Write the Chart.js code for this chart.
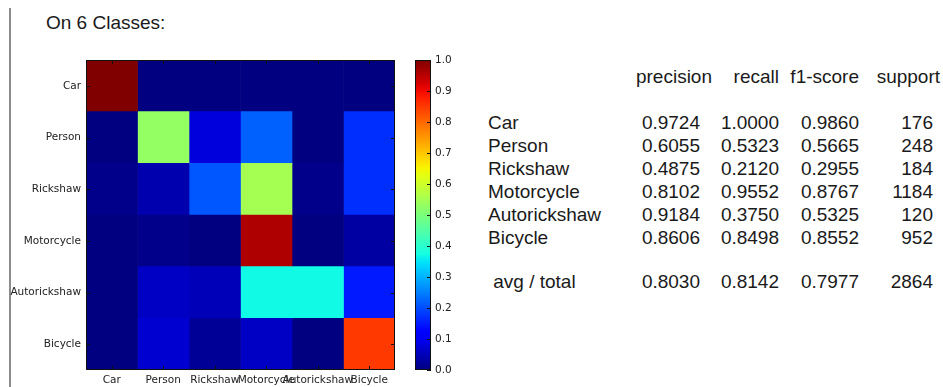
<!DOCTYPE html>
<html>
<head>
<meta charset="utf-8">
<script src="https://cdn.jsdelivr.net/npm/chart.js@4.4.1/dist/chart.umd.min.js"></script>
<style>
  body { margin: 0; background: #fff; }
  #page { position: relative; width: 943px; height: 387px; overflow: hidden; font-family: "Liberation Sans", Arial, sans-serif; color: #1a1a1a; }
  #rule { position: absolute; left: 9px; top: 8px; width: 2px; height: 379px; background: #8c8c8c; }
  #title { position: absolute; left: 46px; top: 12px; font-size: 19px; line-height: 22px; white-space: pre; }
  .cell { position: absolute; font-size: 19px; line-height: 22px; white-space: pre; }
  #heat { position: absolute; left: 0; top: 0; }
  #bar { position: absolute; left: 400px; top: 0; }
</style>
</head>
<body>
<div id="page">
  <div id="rule"></div>
  <div id="title">On 6 Classes:</div>
  <canvas id="heat" width="410" height="387"></canvas>
  <canvas id="bar" width="60" height="387"></canvas>
  <div id="report"></div>
</div>
<script>
// class names (rows = true, columns = predicted)
const classes = ["Car", "Person", "Rickshaw", "Motorcycle", "Autorickshaw", "Bicycle"];

// normalised confusion matrix, one row per true class
const rowCar          = [1.00, 0.00, 0.00, 0.00, 0.00, 0.00];
const rowPerson       = [0.00, 0.53, 0.08, 0.22, 0.00, 0.17];
const rowRickshaw     = [0.01, 0.04, 0.21, 0.55, 0.01, 0.17];
const rowMotorcycle   = [0.00, 0.01, 0.00, 0.96, 0.00, 0.03];
const rowAutorickshaw = [0.00, 0.06, 0.05, 0.37, 0.37, 0.15];
const rowBicycle      = [0.00, 0.07, 0.02, 0.06, 0.00, 0.85];
const confusion = [rowCar, rowPerson, rowRickshaw, rowMotorcycle, rowAutorickshaw, rowBicycle];

const colorbarTicks = [0.0, 0.1, 0.2, 0.3, 0.4, 0.5, 0.6, 0.7, 0.8, 0.9, 1.0];

// classification report
const reportHeader = ["precision", "recall", "f1-score", "support"];
const precision = [0.9724, 0.6055, 0.4875, 0.8102, 0.9184, 0.8606];
const recall    = [1.0000, 0.5323, 0.2120, 0.9552, 0.3750, 0.8498];
const f1score   = [0.9860, 0.5665, 0.2955, 0.8767, 0.5325, 0.8552];
const support   = [176, 248, 184, 1184, 120, 952];
const avgTotal  = [0.8030, 0.8142, 0.7977, 2864];

// matplotlib "jet"
const jetR = [[0, 0], [0.35, 0], [0.66, 1], [0.89, 1], [1, 0.5]];
const jetG = [[0, 0], [0.125, 0], [0.375, 1], [0.64, 1], [0.91, 0], [1, 0]];
const jetB = [[0, 0.5], [0.11, 1], [0.34, 1], [0.65, 0], [1, 0]];
function seg(pts, v) {
  for (let i = 1; i < pts.length; i++) {
    if (v <= pts[i][0]) {
      const [x0, y0] = pts[i - 1], [x1, y1] = pts[i];
      return y0 + (y1 - y0) * (v - x0) / (x1 - x0);
    }
  }
  return pts[pts.length - 1][1];
}
function jet(v) {
  v = Math.max(0, Math.min(1, v));
  const c = [jetR, jetG, jetB].map(p => Math.round(seg(p, v) * 255));
  return `rgb(${c[0]},${c[1]},${c[2]})`;
}

const tickFont = { family: "'DejaVu Sans', sans-serif", size: 10.5 };

// black frame plus small inward ticks, like matplotlib
const framePlugin = {
  id: "frame",
  afterDatasetsDraw(chart, args, opts) {
    const { ctx, chartArea: a } = chart;
    ctx.save();
    ctx.strokeStyle = "#111";
    ctx.lineWidth = 1;
    ctx.strokeRect(Math.round(a.left) + 0.5, Math.round(a.top) + 0.5,
                   Math.round(a.right - a.left) - 1, Math.round(a.bottom - a.top) - 1);
    ctx.beginPath();
    const len = 4;
    (opts.xTicks ? chart.scales.x.ticks : []).forEach(t => {
      const x = Math.round(chart.scales.x.getPixelForValue(t.value)) + 0.5;
      ctx.moveTo(x, a.bottom); ctx.lineTo(x, a.bottom - len);
      ctx.moveTo(x, a.top); ctx.lineTo(x, a.top + len);
    });
    (opts.yTicks ? chart.scales.y.ticks : []).forEach((t, i) => {
      const y = Math.round(chart.scales.y.getPixelForTick(i)) + 0.5;
      if (opts.left) { ctx.moveTo(a.left, y); ctx.lineTo(a.left + len, y); }
      ctx.moveTo(a.right, y); ctx.lineTo(a.right - len, y);
    });
    ctx.stroke();
    ctx.restore();
  }
};

// heatmap: one floating-bar dataset per predicted column
new Chart(document.getElementById("heat"), {
  type: "bar",
  data: {
    labels: classes,
    datasets: classes.map((name, j) => ({
      label: name,
      data: classes.map(() => [j, j + 1]),
      backgroundColor: confusion.map(row => jet(row[j])),
      borderWidth: 0,
      barPercentage: 1,
      categoryPercentage: 1,
      grouped: false
    }))
  },
  options: {
    indexAxis: "y",
    responsive: false,
    animation: false,
    layout: { padding: { top: 60, right: 15, left: 0, bottom: 0 } },
    plugins: {
      legend: { display: false },
      tooltip: { enabled: false },
      frame: { xTicks: true, yTicks: true, left: true }
    },
    scales: {
      x: {
        type: "linear",
        min: 0,
        max: classes.length,
        grid: { display: false, drawTicks: false },
        border: { display: false },
        afterBuildTicks: s => { s.ticks = classes.map((c, i) => ({ value: i + 0.5 })); },
        afterFit: s => { s.height = 17; },
        ticks: {
          autoSkip: false,
          maxRotation: 0,
          minRotation: 0,
          padding: 4,
          color: "#222",
          font: tickFont,
          callback: v => classes[Math.floor(v)]
        }
      },
      y: {
        grid: { display: false, drawTicks: false },
        border: { display: false },
        afterFit: s => { s.width = 86; },
        ticks: { padding: 5, color: "#222", font: tickFont }
      }
    }
  },
  plugins: [framePlugin]
});

// colorbar
new Chart(document.getElementById("bar"), {
  type: "bar",
  data: {
    labels: [""],
    datasets: [{
      data: [[0, 1]],
      borderWidth: 0,
      barPercentage: 1,
      categoryPercentage: 1,
      backgroundColor: ctx => {
        const a = ctx.chart.chartArea;
        if (!a) return "#000";
        const g = ctx.chart.ctx.createLinearGradient(0, a.bottom, 0, a.top);
        for (let i = 0; i <= 40; i++) g.addColorStop(i / 40, jet(i / 40));
        return g;
      }
    }]
  },
  options: {
    responsive: false,
    animation: false,
    layout: { padding: { top: 60, left: 15, right: 0, bottom: 17 } },
    plugins: {
      legend: { display: false },
      tooltip: { enabled: false },
      frame: { xTicks: false, yTicks: true, left: false }
    },
    scales: {
      x: { display: false },
      y: {
        position: "right",
        min: 0,
        max: 1,
        grid: { display: false, drawTicks: false },
        border: { display: false },
        afterBuildTicks: s => { s.ticks = colorbarTicks.map(v => ({ value: v })); },
        afterFit: s => { s.width = 29; },
        ticks: {
          padding: 4,
          color: "#222",
          font: tickFont,
          callback: v => Number(v).toFixed(1)
        }
      }
    }
  },
  plugins: [framePlugin]
});

// classification report as text
const report = document.getElementById("report");
function put(text, x, baseline, align) {
  const d = document.createElement("div");
  d.className = "cell";
  d.textContent = text;
  d.style.top = (baseline - 17.6) + "px";
  if (align === "right") d.style.right = (943 - x) + "px";
  else d.style.left = x + "px";
  report.appendChild(d);
}
const headerRight = [712, 779, 859, 940];
const colRight = [700, 779, 859, 933];
reportHeader.forEach((h, i) => put(h, headerRight[i], 84, "right"));
classes.forEach((name, i) => {
  const y = 130 + 23 * i;
  put(name, 488, y, "left");
  put(precision[i].toFixed(4), colRight[0], y, "right");
  put(recall[i].toFixed(4), colRight[1], y, "right");
  put(f1score[i].toFixed(4), colRight[2], y, "right");
  put(String(support[i]), colRight[3], y, "right");
});
put(" avg / total", 488, 289, "left");
avgTotal.forEach((v, i) => put(i < 3 ? v.toFixed(4) : String(v), colRight[i], 289, "right"));
</script>
</body>
</html>
